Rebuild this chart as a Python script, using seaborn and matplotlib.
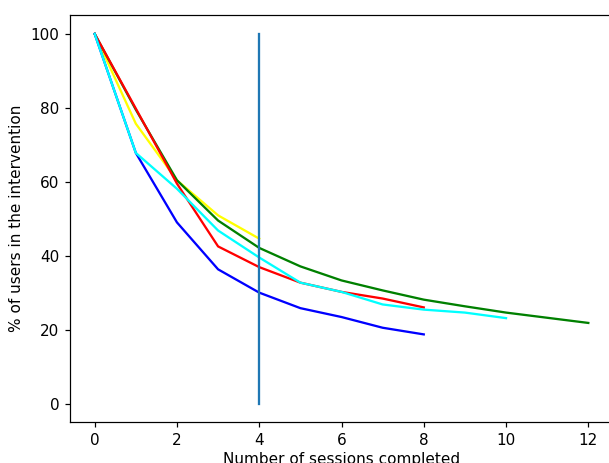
import numpy as np
import pandas as pd
import matplotlib
matplotlib.use("Agg")
import matplotlib.pyplot as plt
import seaborn as sns

# Data
yellow_x = [0, 1, 2, 3, 4]
yellow_y = [100, 75.7, 60.4, 50.9, 44.6]

green_x = [0, 1, 2, 3, 4, 5, 6, 7, 8, 9, 10, 11, 12]
green_y = [100, 79.5, 60.4, 49.5, 42.1, 37.1, 33.3, 30.6, 28.1, 26.3, 24.6, 23.2, 21.8]

red_x = [0, 1, 2, 3, 4, 5, 6, 7, 8]
red_y = [100, 79.8, 59.5, 42.5, 36.9, 32.7, 30.2, 28.4, 26.0]

blue_x = [0, 1, 2, 3, 4, 5, 6, 7, 8]
blue_y = [100, 67.8, 49.0, 36.3, 30.0, 25.8, 23.4, 20.5, 18.7]

cyan_x = [0, 1, 2, 3, 4, 5, 6, 7, 8, 9, 10]
cyan_y = [100, 67.8, 58.1, 46.8, 39.5, 32.7, 30.2, 26.8, 25.4, 24.6, 23.1]

vline_x = [4, 4]
vline_y = [0, 100]

series = [
    (yellow_x, yellow_y, "yellow"),
    (green_x, green_y, "green"),
    (red_x, red_y, "red"),
    (blue_x, blue_y, "blue"),
    (cyan_x, cyan_y, "cyan"),
]

dpi = 110
fig = plt.figure(figsize=(609 / dpi, 463 / dpi), dpi=dpi)
W, H = 609, 463
left_px, right_px, top_px, bottom_px = 70, 613, 15.4, 422
ax = fig.add_axes([left_px / W, 1 - bottom_px / H,
                   (right_px - left_px) / W, (bottom_px - top_px) / H])

for xs, ys, c in series:
    sns.lineplot(x=xs, y=ys, color=c, ax=ax, linewidth=1.5)

sns.lineplot(x=vline_x, y=vline_y, color="#1f77b4", ax=ax, linewidth=1.5,
             estimator=None, sort=False)

ax.set_xticks([0, 2, 4, 6, 8, 10, 12])
ax.set_yticks([0, 20, 40, 60, 80, 100])
ax.set_xlim(-0.6, 12.6)
ax.set_ylim(-5, 105)
ax.spines["right"].set_visible(False)
ax.set_xlabel("Number of sessions completed", labelpad=3)
ax.set_ylabel("% of users in the intervention")

fig.savefig("out.png", dpi=dpi)
